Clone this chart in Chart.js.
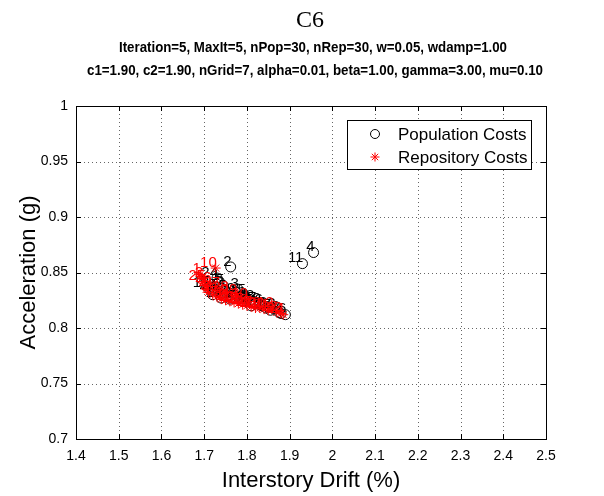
<!DOCTYPE html>
<html>
<head>
<meta charset="utf-8">
<script src="https://cdn.jsdelivr.net/npm/chart.js@4/dist/chart.umd.min.js"></script>
<style>
  html, body { margin: 0; padding: 0; background: #fff; }
  #wrap { width: 604px; height: 496px; }
</style>
</head>
<body>
<div id="wrap"><canvas id="chart" width="604" height="496"></canvas></div>
<script>
// --- titles ---
const titleMain = "C6";
const titleLines = [
  "Iteration=5, MaxIt=5, nPop=30, nRep=30, w=0.05, wdamp=1.00",
  "c1=1.90, c2=1.90, nGrid=7, alpha=0.01, beta=1.00, gamma=3.00, mu=0.10",
];
const xTitle = "Interstory Drift (%)";
const yTitle = "Acceleration (g)";

// --- axes ---
const xMin = 1.4, xMax = 2.5, xStep = 0.1;
const yMin = 0.7, yMax = 1.0, yStep = 0.05;

// --- population (black circles) ---
const popX = [1.735, 1.762, 1.779, 1.956, 1.745, 1.835, 1.720, 1.800, 1.770, 1.830,
              1.930, 1.865, 1.710, 1.790, 1.750, 1.890, 1.820, 1.740, 1.785, 1.810,
              1.760, 1.875, 1.845, 1.730, 1.795, 1.725, 1.855, 1.815, 1.880, 1.755];
const popY = [0.842, 0.855, 0.835, 0.868, 0.838, 0.820, 0.830, 0.826, 0.830, 0.821,
              0.858, 0.817, 0.836, 0.824, 0.833, 0.812, 0.822, 0.827, 0.827, 0.820,
              0.826, 0.814, 0.818, 0.845, 0.829, 0.834, 0.816, 0.824, 0.813, 0.829];
const popLabels = popX.map((_, i) => String(i + 1));

// --- repository (red stars) ---
const repX = [1.690, 1.695, 1.700, 1.705, 1.710, 1.720, 1.730, 1.740, 1.750, 1.727,
              1.760, 1.860, 1.770, 1.780, 1.790, 1.800, 1.810, 1.820, 1.830, 1.840,
              1.850, 1.870, 1.880, 1.885, 1.700, 1.715, 1.735, 1.755, 1.775, 1.800];
const repY = [0.848, 0.845, 0.838, 0.835, 0.832, 0.830, 0.828, 0.826, 0.825, 0.854,
              0.824, 0.818, 0.823, 0.822, 0.821, 0.820, 0.819, 0.818, 0.818, 0.817,
              0.816, 0.814, 0.813, 0.812, 0.842, 0.840, 0.836, 0.832, 0.829, 0.826];
const repLabels = repX.map((_, i) => String(i + 1));

const popName = "Population Costs";
const repName = "Repository Costs";

const AREA = { left: 76, top: 106, right: 546, bottom: 439 };
const W = 604, H = 496;
const FONT = "'Liberation Sans', Arial, sans-serif";

function pts(xs, ys) { return xs.map((x, i) => ({ x: x, y: ys[i] })); }
function trimTick(v) { return String(Number(v.toFixed(2))); }

// titles, dotted grid, frame, point numbers and legend box
const decor = {
  id: "decor",
  beforeDatasetsDraw(chart) {
    const ctx = chart.ctx;
    const a = chart.chartArea;
    const xs = chart.scales.x, ys = chart.scales.y;
    ctx.save();
    ctx.strokeStyle = "rgba(0,0,0,0.6)";
    ctx.lineWidth = 1;
    ctx.setLineDash([1, 3]);
    xs.ticks.forEach((t) => {
      const px = Math.round(xs.getPixelForValue(t.value)) + 0.5;
      ctx.beginPath(); ctx.moveTo(px, a.bottom); ctx.lineTo(px, a.top); ctx.stroke();
    });
    ys.ticks.forEach((t) => {
      const py = Math.round(ys.getPixelForValue(t.value)) + 0.5;
      ctx.beginPath(); ctx.moveTo(a.left, py); ctx.lineTo(a.right, py); ctx.stroke();
    });
    // inward tick marks on all four sides
    ctx.setLineDash([]);
    ctx.strokeStyle = "#000";
    xs.ticks.forEach((t) => {
      const px = Math.round(xs.getPixelForValue(t.value)) + 0.5;
      ctx.beginPath(); ctx.moveTo(px, a.bottom); ctx.lineTo(px, a.bottom - 5); ctx.stroke();
      ctx.beginPath(); ctx.moveTo(px, a.top); ctx.lineTo(px, a.top + 5); ctx.stroke();
    });
    ys.ticks.forEach((t) => {
      const py = Math.round(ys.getPixelForValue(t.value)) + 0.5;
      ctx.beginPath(); ctx.moveTo(a.left, py); ctx.lineTo(a.left + 5, py); ctx.stroke();
      ctx.beginPath(); ctx.moveTo(a.right, py); ctx.lineTo(a.right - 5, py); ctx.stroke();
    });
    ctx.restore();
  },
  afterDatasetDraw(chart, args) {
    const ds = chart.data.datasets[args.index];
    const meta = chart.getDatasetMeta(args.index);
    const ctx = chart.ctx;
    ctx.save();
    ctx.font = "15px " + FONT;
    ctx.fillStyle = ds.borderColor;
    ctx.textAlign = "right";
    ctx.textBaseline = "bottom";
    meta.data.forEach((el, i) => {
      ctx.fillText(ds.numbers[i], el.x + 1, el.y + 2);
    });
    ctx.restore();
  },
  afterDraw(chart) {
    const ctx = chart.ctx;
    const a = chart.chartArea;
    const cx = (a.left + a.right) / 2;
    ctx.save();
    ctx.fillStyle = "#000";
    ctx.textAlign = "center";
    ctx.textBaseline = "middle";
    ctx.font = "24px 'Liberation Serif', 'Times New Roman', serif";
    ctx.fillText(titleMain, cx - 1, 21);
    ctx.font = "bold 14px " + FONT;
    ctx.fillText(titleLines[0], cx + 2, 48, 388);
    ctx.fillText(titleLines[1], cx + 4, 71, 456);

    // frame
    ctx.strokeStyle = "#000";
    ctx.lineWidth = 1;
    ctx.strokeRect(Math.round(a.left) + 0.5, Math.round(a.top) + 0.5,
                   Math.round(a.right - a.left), Math.round(a.bottom - a.top));

    // legend box
    const lx = 347, ly = 120, lw = 184, lh = 49;
    ctx.fillStyle = "#fff";
    ctx.fillRect(lx, ly, lw, lh);
    ctx.strokeStyle = "#000";
    ctx.strokeRect(lx + 0.5, ly + 0.5, lw, lh);
    ctx.font = "17px " + FONT;
    ctx.textAlign = "left";
    const items = [chart.data.datasets[1], chart.data.datasets[0]];
    items.forEach((ds, i) => {
      const y = ly + 14 + i * 23;
      ctx.strokeStyle = ds.borderColor;
      ctx.fillStyle = ds.backgroundColor;
      ctx.lineWidth = 1;
      Chart.helpers.drawPoint(ctx, {
        pointStyle: ds.pointStyle, radius: 4.5, borderWidth: 1, rotation: 0,
      }, lx + 28, y);
      ctx.fillStyle = "#000";
      ctx.fillText(ds.label, lx + 51, y + 1);
    });
    ctx.restore();
  },
};

new Chart(document.getElementById("chart"), {
  type: "scatter",
  data: {
    datasets: [
      {
        label: repName,
        data: pts(repX, repY),
        numbers: repLabels,
        pointStyle: "star",
        pointRadius: 5,
        borderColor: "#ff0000",
        backgroundColor: "#ff0000",
        borderWidth: 1,
        order: 1,
      },
      {
        label: popName,
        data: pts(popX, popY),
        numbers: popLabels,
        pointStyle: "circle",
        pointRadius: 5,
        borderColor: "#000000",
        backgroundColor: "rgba(0,0,0,0)",
        borderWidth: 1,
        order: 2,
      },
    ],
  },
  options: {
    responsive: false,
    animation: false,
    layout: { padding: { left: 0, top: AREA.top, right: W - AREA.right, bottom: 0 } },
    plugins: {
      legend: { display: false },
      tooltip: { enabled: false },
      title: { display: false },
    },
    scales: {
      x: {
        type: "linear",
        min: xMin,
        max: xMax,
        border: { display: false },
        grid: { display: false, drawTicks: false },
        ticks: {
          stepSize: xStep,
          padding: 9,
          color: "#000",
          font: { family: FONT, size: 14 },
          maxRotation: 0,
          callback: trimTick,
        },
        title: {
          display: true,
          text: xTitle,
          color: "#000",
          font: { family: FONT, size: 22 },
          padding: { top: 0, bottom: 2 },
        },
        afterFit(scale) { scale.height = H - AREA.bottom; },
      },
      y: {
        type: "linear",
        min: yMin,
        max: yMax,
        border: { display: false },
        grid: { display: false, drawTicks: false },
        ticks: {
          stepSize: yStep,
          padding: 8,
          color: "#000",
          font: { family: FONT, size: 14 },
          callback: trimTick,
        },
        title: {
          display: true,
          text: yTitle,
          color: "#000",
          font: { family: FONT, size: 22 },
          padding: { top: 16, bottom: 0 },
        },
        afterFit(scale) { scale.width = AREA.left; },
      },
    },
  },
  plugins: [decor],
});
</script>
</body>
</html>
